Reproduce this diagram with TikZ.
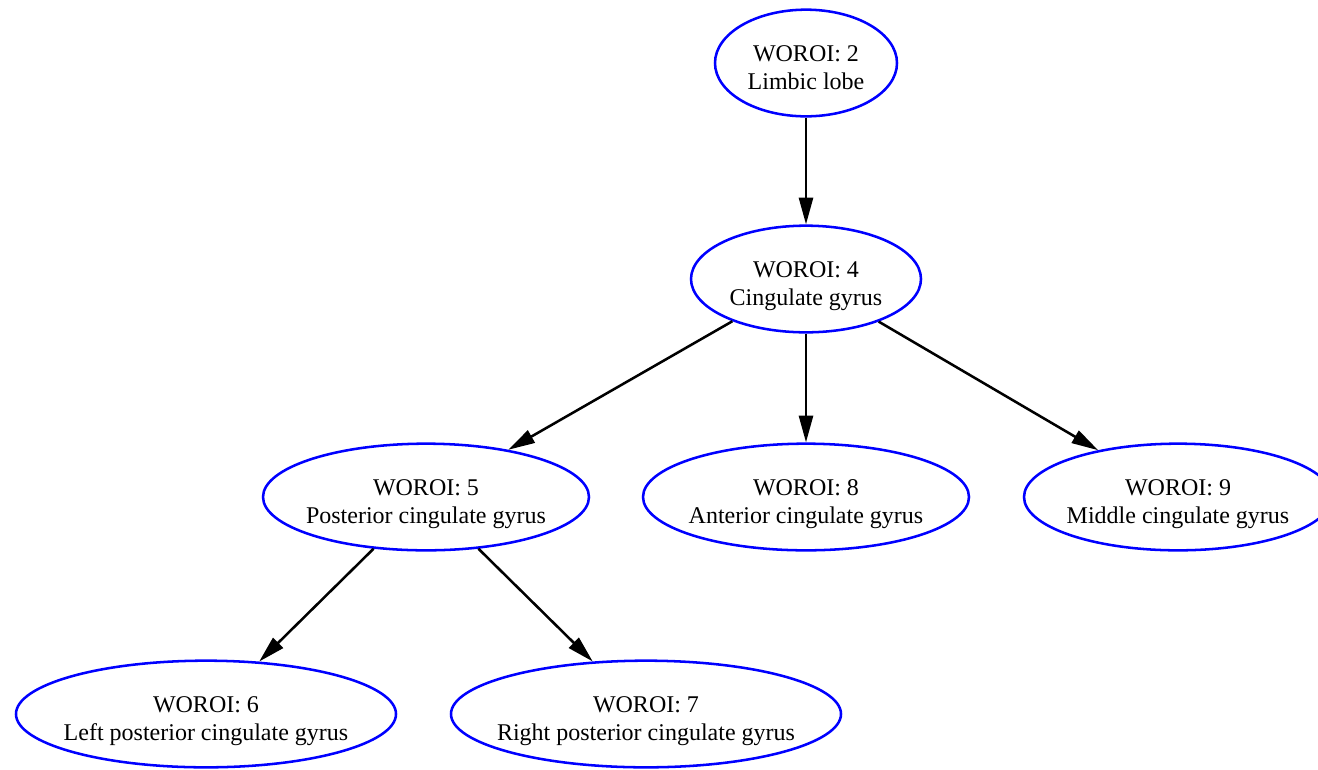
\documentclass[tikz,border=0pt]{standalone}
\usepackage{fontspec}
\setmainfont{Liberation Serif}
\usepackage{tikz}
\usetikzlibrary{arrows.meta, shapes.geometric}
\newcommand{\roi}[2]{\raisebox{-9.5pt}[0pt][0pt]{\makebox[0pt]{\begin{tabular}{c}WOROI: #1\\#2\end{tabular}}}}
\tikzset{roi/.style = {shape=ellipse,draw=blue,line width=1.9pt,inner sep=0pt,minimum height=80pt}}
\tikzset{edge/.style = {line width=1.9pt,-{Triangle[length=20pt,width=10.5pt]}}}

\begin{document}
\begin{tikzpicture}[x=0.75pt,y=-0.75pt,font=\fontsize{18}{20.5}\selectfont]
            \useasboundingbox (0,0) rectangle (1318,769);
            \node[roi,minimum width=136.5pt] (r2) at (806,63) {\roi{2}{Limbic lobe}};
            \node[roi,minimum width=172.5pt] (r4) at (806,279) {\roi{4}{Cingulate gyrus}};
            \draw[edge] (r2) -- (r4);
            \node[roi,minimum width=244.5pt] (r5) at (426,497) {\roi{5}{Posterior cingulate gyrus}};
            \draw[edge] (r4) -- (r5);
            \node[roi,minimum width=244.5pt] (r8) at (806,497) {\roi{8}{Anterior cingulate gyrus}};
            \draw[edge] (r4) -- (r8);
            \node[roi,minimum width=231pt] (r9) at (1178,497) {\roi{9}{Middle cingulate gyrus}};
            \draw[edge] (r4) -- (r9);
            \node[roi,minimum width=285pt] (r6) at (206,714) {\roi{6}{Left posterior cingulate gyrus}};
            \draw[edge] (r5) -- (r6);
            \node[roi,minimum width=292.5pt] (r7) at (646,714) {\roi{7}{Right posterior cingulate gyrus}};
            \draw[edge] (r5) -- (r7);
        \end{tikzpicture}
\end{document}
